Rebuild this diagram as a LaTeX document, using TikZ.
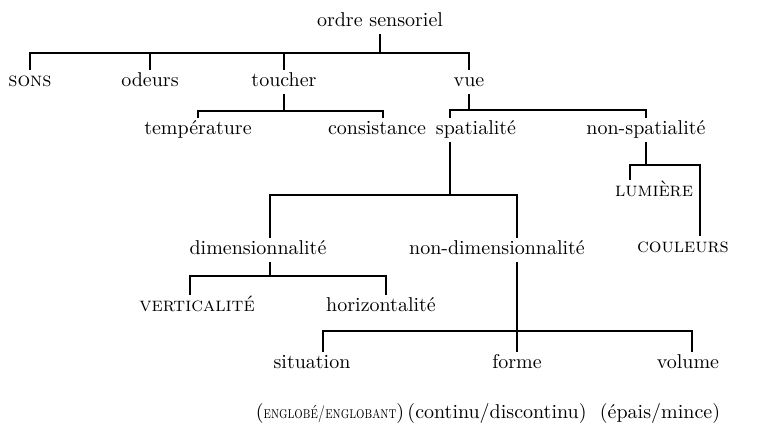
\documentclass[tikz,border=0pt]{standalone}
\usepackage{fontspec}
\usetikzlibrary{positioning}

\begin{document}
\begin{tikzpicture}[x=0.5pt,y=-0.5pt,
    lbl/.style={anchor=base,inner xsep=0pt,inner ysep=1.5pt,
      text height=7pt,text depth=2pt,font=\fontsize{10}{12}\selectfont},
    sc/.style={lbl,font=\fontsize{10}{12}\selectfont\scshape},
    branch/.style={line width=1pt}]

  \useasboundingbox (0,0) rectangle (761,426);

  % labels
  \node[lbl] (root) at (380,27) {ordre sensoriel};
  \node[sc] (sons) at (30,87) {sons};
  \node[lbl] (odeurs) at (150,87) {odeurs};
  \node[lbl] (toucher) at (284,87) {toucher};
  \node[lbl] (vue) at (469,87) {vue};
  \node[lbl] (temp) at (198,135) {température};
  \node[lbl] (cons) at (377,135) {consistance};
  \node[lbl] (spat) at (476,135) {spatialité};
  \node[lbl] (nspat) at (646,135) {non-spatialité};
  \node[sc] (lum) at (654,197) {lumière};
  \node[sc] (coul) at (683,253) {couleurs};
  \node[lbl] (dim) at (258,255) {dimensionnalité};
  \node[lbl] (ndim) at (497,255) {non-dimensionnalité};
  \node[sc] (vert) at (197,312) {verticalité};
  \node[lbl] (hor) at (381,312) {horizontalité};
  \node[lbl] (sit) at (312,369) {situation};
  \node[lbl] (forme) at (517,369) {forme};
  \node[lbl] (vol) at (688,369) {volume};
  \node[lbl] (englob) at (330,419)
    {(\scalebox{0.78}[1]{\fontsize{8.5}{10}\selectfont\scshape englobé/englobant})};
  \node[lbl] (contin) at (497,419) {(continu/discontinu)};
  \node[lbl] (epais) at (660,419) {(épais/mince)};

  % bar heights
  \coordinate (bar1) at (0,53);
  \coordinate (bar2) at (0,111);
  \coordinate (bar3) at (0,110);
  \coordinate (bar4) at (0,195);
  \coordinate (bar5) at (0,165);
  \coordinate (bar6) at (0,276);
  \coordinate (bar7) at (0,331);

  % ticks off centre
  \coordinate (c-cons) at ([xshift=3pt]cons.north);
  \coordinate (c-spat) at ([xshift=-13pt]spat.north);
  \coordinate (c-dim) at ([xshift=6pt]dim.north);
  \coordinate (c-ndim) at ([xshift=10pt]ndim.north);
  \coordinate (c-lum) at ([xshift=-12pt]lum.north);
  \coordinate (c-coul) at ([xshift=8.5pt]coul.north);
  \coordinate (c-vert) at ([xshift=-3.5pt]vert.north);
  \coordinate (c-hor) at ([xshift=2.5pt]hor.north);
  \coordinate (c-sit) at ([xshift=5.5pt]sit.north);
  \coordinate (c-vol) at ([xshift=2pt]vol.north);

  % ordre sensoriel
  \draw[branch] (root.south) -- (root.south |- bar1);
  \draw[branch] (sons.north) |- (vue.north |- bar1) -- (vue.north);
  \foreach \n in {odeurs,toucher}
    \draw[branch] (\n.north) -- (\n.north |- bar1);

  % toucher
  \draw[branch] (toucher.south) -- (toucher.south |- bar2);
  \draw[branch] (temp.north) |- (c-cons |- bar2) -- (c-cons);

  % vue
  \draw[branch] (vue.south) -- (vue.south |- bar3);
  \draw[branch] (c-spat) |- (nspat.north |- bar3) -- (nspat.north);

  % spatialite
  \draw[branch] (c-spat |- spat.south) -- (c-spat |- bar4);
  \draw[branch] (c-dim) |- (c-ndim |- bar4) -- (c-ndim);

  % non-spatialite
  \draw[branch] (nspat.south) -- (nspat.south |- bar5);
  \draw[branch] (c-lum) |- (c-coul |- bar5) -- (c-coul);

  % dimensionnalite
  \draw[branch] (c-dim |- dim.south) -- (c-dim |- bar6);
  \draw[branch] (c-vert) |- (c-hor |- bar6) -- (c-hor);

  % non-dimensionnalite
  \draw[branch] (forme.north |- ndim.south) -- (forme.north);
  \draw[branch] (c-sit) |- (c-vol |- bar7) -- (c-vol);
\end{tikzpicture}
\end{document}
